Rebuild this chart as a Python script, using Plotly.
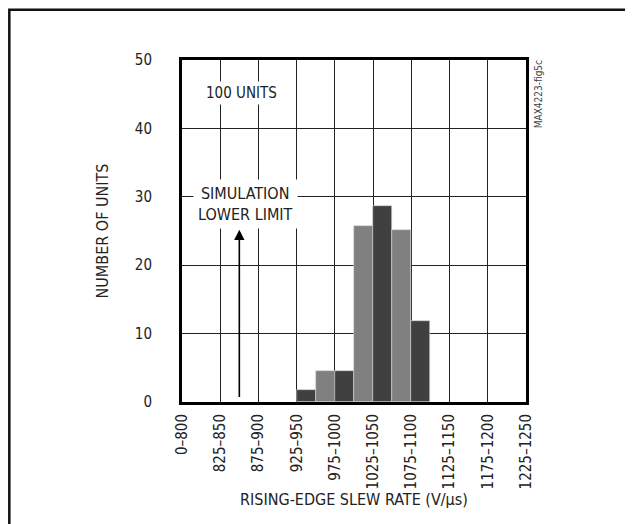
import plotly.graph_objects as go

FONT = "DejaVu Sans Condensed, DejaVu Sans, sans-serif"

# histogram bins (V/us), bin width 25
bin_low = [950, 975, 1000, 1025, 1050, 1075, 1100]
counts = [1.7, 4.5, 4.5, 25.8, 28.6, 25.1, 11.9]
bar_colors = ["#404040", "#808080", "#404040", "#808080", "#404040", "#808080", "#404040"]

tick_pos = [800, 850, 900, 950, 1000, 1050, 1100, 1150, 1200, 1250]
tick_text = ["0–800", "825–850", "875–900", "925–950", "975–1000",
             "1025–1050", "1075–1100", "1125–1150", "1175–1200", "1225–1250"]

sim_limit = 875

fig = go.Figure()
fig.add_trace(go.Bar(
    x=[b + 12.5 for b in bin_low],
    y=counts,
    width=25,
    marker=dict(color=bar_colors, line=dict(color="#d8d8d8", width=0.6)),
    showlegend=False,
))

fig.add_annotation(
    x=sim_limit, y=25.2, ax=sim_limit, ay=0.5,
    xref="x", yref="y", axref="x", ayref="y",
    text="", showarrow=True, arrowhead=2, arrowsize=1.3, arrowwidth=1.6, arrowcolor="#000",
)
fig.add_annotation(
    x=883, y=28.9, xref="x", yref="y",
    text="SIMULATION<br>LOWER LIMIT", showarrow=False,
    font=dict(size=16, color="#222", family=FONT),
    bgcolor="white", borderpad=4,
)
fig.add_annotation(
    x=878, y=45.2, xref="x", yref="y",
    text="100 UNITS", showarrow=False,
    font=dict(size=15, color="#222", family=FONT),
    bgcolor="white", borderpad=2,
)
fig.add_annotation(
    x=1.035, y=0.9, xref="paper", yref="paper",
    xanchor="center", yanchor="middle",
    text="MAX4223-fig5c", showarrow=False, textangle=-90,
    font=dict(size=10, color="#444", family=FONT),
)

# outer frame (right and bottom edges run off the page)
fig.add_shape(type="rect", xref="paper", yref="paper",
              x0=-0.502, x1=2, y0=-1, y1=1.147,
              line=dict(color="#111", width=2.5), layer="above")

fig.update_layout(
    width=641, height=532,
    margin=dict(l=174, r=123, t=52, b=138),
    paper_bgcolor="white", plot_bgcolor="white",
    font=dict(family=FONT, size=15, color="#222"),
    bargap=0,
)
fig.update_xaxes(
    range=[800, 1250], tickvals=tick_pos, ticktext=tick_text, tickangle=-90,
    showgrid=True, gridcolor="#222", gridwidth=1,
    showline=True, linecolor="#000", linewidth=3, mirror=True,
    ticks="", ticklabelstandoff=3,
    title=dict(text="RISING-EDGE SLEW RATE (V/µs)", standoff=6, font=dict(size=16)),
    zeroline=False, fixedrange=True,
)
fig.update_yaxes(
    range=[0, 50], tickvals=[0, 10, 20, 30, 40, 50],
    showgrid=True, gridcolor="#222", gridwidth=1,
    showline=True, linecolor="#000", linewidth=3, mirror=True,
    ticks="", ticklabelstandoff=24,
    title=dict(text="NUMBER OF UNITS", standoff=23, font=dict(size=16)),
    zeroline=False, fixedrange=True,
)

fig.write_html("out.html")
